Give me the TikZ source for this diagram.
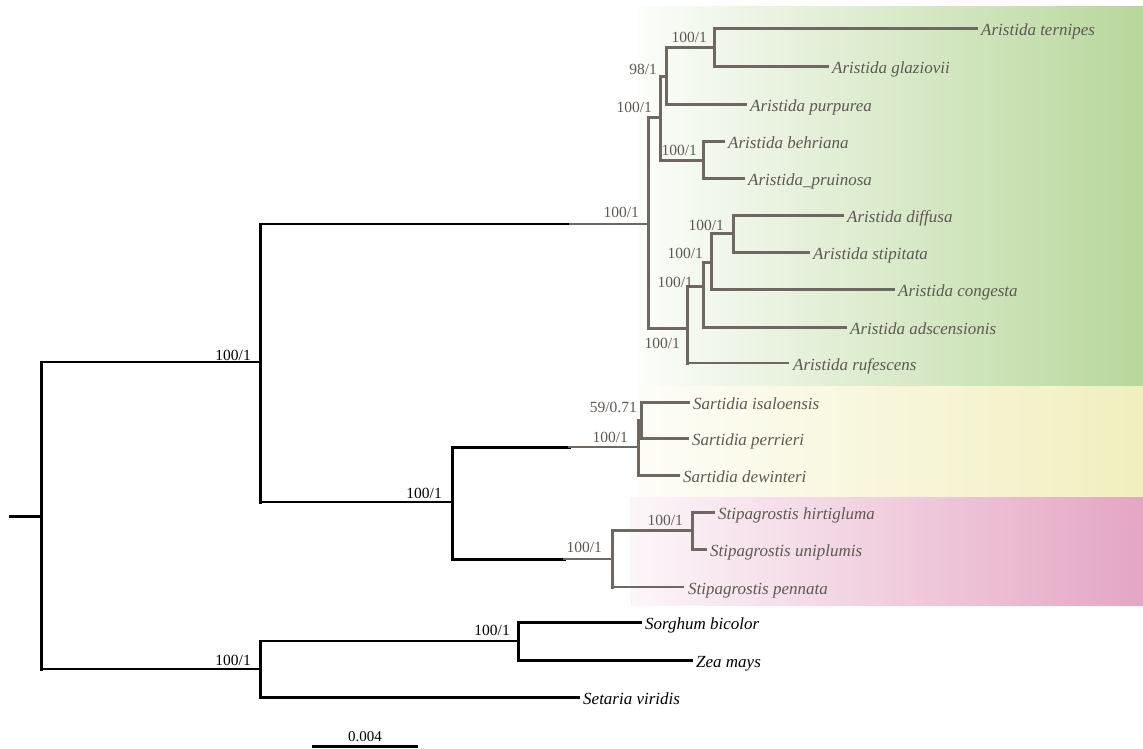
\documentclass[tikz,border=0pt]{standalone}
\usepackage{fontspec}
\setmainfont{Liberation Serif}
\definecolor{grn}{HTML}{B8D79B}
\definecolor{ylw}{HTML}{F1EFBE}
\definecolor{pnk}{HTML}{E4A6C3}
\definecolor{lgray}{HTML}{6E6762}
\definecolor{tgray}{HTML}{5E5853}
\tikzset{
  bk/.style={line width=3pt, black, line cap=rect},
  bkt/.style={line width=2pt, black, line cap=rect},
  gr/.style={line width=3pt, lgray, line cap=rect},
  grt/.style={line width=2pt, lgray, line cap=rect},
  sp/.style={anchor=base west, inner sep=0pt, xshift=5pt, yshift=-7pt, text=tgray, font=\fontsize{17}{17}\selectfont\itshape},
  spb/.style={sp, text=black},
  sup/.style={anchor=base east, inner sep=0pt, text=tgray, font=\fontsize{15.5}{15.5}\selectfont},
  supb/.style={sup, text=black},
}
\begin{document}
\begin{tikzpicture}[x=1pt,y=-1pt]
\useasboundingbox (0,0) rectangle (1143,749);
\fill[white] (0,0) rectangle (1143,749);
% clade bands
\shade[left color=grn!5!white, right color=grn] (638,7) rectangle (1143,385);
\shade[left color=ylw!12!white, right color=ylw] (638,386) rectangle (1143,496);
\shade[left color=pnk!10!white, right color=pnk] (630,497) rectangle (1143,605);

% internal nodes
\coordinate (stub) at (10,516);
\coordinate (root) at (41,516);
\coordinate (nA) at (260,362);
\coordinate (nB) at (260,669);
\coordinate (cAr) at (570,224);
\coordinate (nAr) at (648,224);
\coordinate (nSS) at (452,502);
\coordinate (cSa) at (569,447);
\coordinate (nSa) at (638,447);
\coordinate (cSt) at (564,559);
\coordinate (nSt) at (612,559);
\coordinate (nA1) at (660,118);
\coordinate (nA3) at (666,77);
\coordinate (nA5) at (714,48);
\coordinate (nA4) at (703,160);
\coordinate (nA2) at (687,328);
\coordinate (nA6) at (703,286);
\coordinate (nA7) at (711,262);
\coordinate (nA8) at (733,233);
\coordinate (nSa1) at (641,420);
\coordinate (nSt1) at (692,530);
\coordinate (nB1) at (518,641);
% leaves
\coordinate (lTer) at (976,29);
\coordinate (lGla) at (827,67);
\coordinate (lPur) at (745,105);
\coordinate (lBeh) at (723,142);
\coordinate (lPru) at (743,178);
\coordinate (lDif) at (842,215);
\coordinate (lSti) at (808,252);
\coordinate (lCon) at (893,289);
\coordinate (lAds) at (845,327);
\coordinate (lRuf) at (788,363);
\coordinate (lIsa) at (688,402);
\coordinate (lPer) at (687,438);
\coordinate (lDew) at (678,475);
\coordinate (lHir) at (713,512);
\coordinate (lUni) at (705,549);
\coordinate (lPen) at (683,587);
\coordinate (lSor) at (640,622);
\coordinate (lZea) at (691,660);
\coordinate (lSet) at (578,697);

% black part of the tree
\draw[bk] (stub) -- (root);
\draw[bk] (root|-nA) -- (root|-nB);
\draw[bkt] (root|-nA) -- (nA);
\draw[bkt] (root|-nB) -- (nB);
\draw[bk] (nA|-nAr) -- (nA|-nSS);
\draw[bkt] (nA|-nAr) -- (cAr);
\draw[bkt] (nA|-nSS) -- (nSS);
\draw[bk] (nSS|-nSa) -- (nSS|-nSt);
\draw[bk] (nSS|-nSa) -- (cSa);
\draw[bk] (nSS|-nSt) -- (cSt);
\draw[bk] (nB|-nB1) -- (nB|-lSet);
\draw[bkt] (nB|-nB1) -- (nB1);
\draw[bk] (nB|-lSet) -- (lSet);
\draw[bk] (nB1|-lSor) -- (nB1|-lZea);
\draw[bk] (nB1|-lSor) -- (lSor);
\draw[bk] (nB1|-lZea) -- (lZea);

% grey part of the tree
\draw[grt] (cAr) -- (nAr);
\draw[grt] (cSa) -- (nSa);
\draw[grt] (cSt) -- (nSt);
\draw[gr] (nAr|-nA1) -- (nAr|-nA2);
\draw[gr] (nAr|-nA1) -- (nA1);
\draw[gr] (nAr|-nA2) -- (nA2);
\draw[gr] (nA1|-nA3) -- (nA1|-nA4);
\draw[gr] (nA1|-nA3) -- (nA3);
\draw[gr] (nA1|-nA4) -- (nA4);
\draw[gr] (nA3|-nA5) -- (nA3|-lPur);
\draw[gr] (nA3|-nA5) -- (nA5);
\draw[gr] (nA3|-lPur) -- (lPur);
\draw[gr] (nA5|-lTer) -- (nA5|-lGla);
\draw[gr] (nA5|-lTer) -- (lTer);
\draw[gr] (nA5|-lGla) -- (lGla);
\draw[gr] (nA4|-lBeh) -- (nA4|-lPru);
\draw[gr] (nA4|-lBeh) -- (lBeh);
\draw[gr] (nA4|-lPru) -- (lPru);
\draw[gr] (nA2|-nA6) -- (nA2|-lRuf);
\draw[gr] (nA2|-nA6) -- (nA6);
\draw[grt] (nA2|-lRuf) -- (lRuf);
\draw[gr] (nA6|-nA7) -- (nA6|-lAds);
\draw[gr] (nA6|-nA7) -- (nA7);
\draw[gr] (nA6|-lAds) -- (lAds);
\draw[gr] (nA7|-nA8) -- (nA7|-lCon);
\draw[gr] (nA7|-nA8) -- (nA8);
\draw[gr] (nA7|-lCon) -- (lCon);
\draw[gr] (nA8|-lDif) -- (nA8|-lSti);
\draw[gr] (nA8|-lDif) -- (lDif);
\draw[gr] (nA8|-lSti) -- (lSti);
\draw[gr] (nSa|-nSa1) -- (nSa|-lDew);
\draw[gr] (nSa|-nSa1) -- (nSa1);
\draw[gr] (nSa|-lDew) -- (lDew);
\draw[gr] (nSa1|-lIsa) -- (nSa1|-lPer);
\draw[gr] (nSa1|-lIsa) -- (lIsa);
\draw[gr] (nSa1|-lPer) -- (lPer);
\draw[gr] (nSt|-nSt1) -- (nSt|-lPen);
\draw[gr] (nSt|-nSt1) -- (nSt1);
\draw[grt] (nSt|-lPen) -- (lPen);
\draw[gr] (nSt1|-lHir) -- (nSt1|-lUni);
\draw[gr] (nSt1|-lHir) -- (lHir);
\draw[gr] (nSt1|-lUni) -- (lUni);

% taxon labels
\node[sp] (tTer) at (lTer) {Aristida ternipes};
\node[sp] (tGla) at (lGla) {Aristida glaziovii};
\node[sp] (tPur) at (lPur) {Aristida purpurea};
\node[sp] (tBeh) at (lBeh) {Aristida behriana};
\node[sp] (tPru) at (lPru) {Aristida\_pruinosa};
\node[sp] (tDif) at (lDif) {Aristida diffusa};
\node[sp] (tSti) at (lSti) {Aristida stipitata};
\node[sp] (tCon) at (lCon) {Aristida congesta};
\node[sp] (tAds) at (lAds) {Aristida adscensionis};
\node[sp] (tRuf) at (lRuf) {Aristida rufescens};
\node[sp] (tIsa) at (lIsa) {Sartidia isaloensis};
\node[sp] (tPer) at (lPer) {Sartidia perrieri};
\node[sp] (tDew) at (lDew) {Sartidia dewinteri};
\node[sp] (tHir) at (lHir) {Stipagrostis hirtigluma};
\node[sp] (tUni) at (lUni) {Stipagrostis uniplumis};
\node[sp] (tPen) at (lPen) {Stipagrostis pennata};
\node[spb] (tSor) at (lSor) {Sorghum bicolor};
\node[spb] (tZea) at (lZea) {Zea mays};
\node[spb] (tSet) at (lSet) {Setaria viridis};

% support values
\node[supb] (s1) at (251,360) {100/1};
\node[sup] (s2) at (639,217) {100/1};
\node[sup] (s3) at (652,113) {100/1};
\node[sup] (s4) at (657,75) {98/1};
\node[sup] (s5) at (707,43) {100/1};
\node[sup] (s6) at (697,156) {100/1};
\node[sup] (s7) at (724,230) {100/1};
\node[sup] (s8) at (703,258) {100/1};
\node[sup] (s9) at (693,287) {100/1};
\node[sup] (s10) at (680,348) {100/1};
\node[supb] (s11) at (442,498) {100/1};
\node[sup] (s12) at (628,442) {100/1};
\node[sup] (s13) at (637,412) {59/0.71};
\node[sup] (s14) at (602,552) {100/1};
\node[sup] (s15) at (683,525) {100/1};
\node[supb] (s16) at (510,635) {100/1};
\node[supb] (s17) at (251,665) {100/1};

% scale bar
\coordinate (sbL) at (312,746);
\coordinate (sbR) at (418,746);
\draw[line width=3pt, black] (sbL) -- (sbR);
\node[anchor=base, inner sep=0pt, font=\fontsize{15}{15}\selectfont] (sbT) at (365,741) {0.004};
\end{tikzpicture}
\end{document}
